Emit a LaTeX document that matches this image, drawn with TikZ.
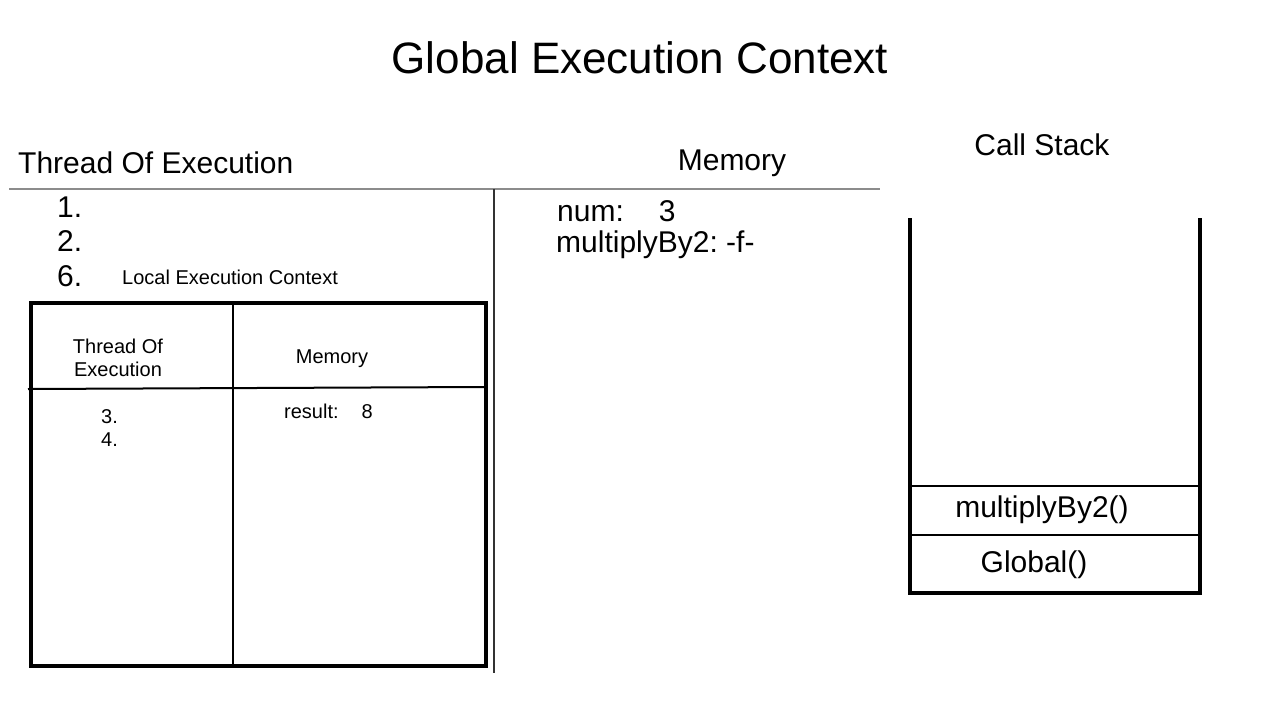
\documentclass[tikz,border=0pt]{standalone}
\usepackage{fontspec}
\setmainfont{Liberation Sans}
\usepackage{tikz}
\frenchspacing
\tikzset{
    every node/.style={inner sep=0pt, font=\fontsize{30}{34}\selectfont}
}
\tikzset{
    small/.style={font=\fontsize{20}{23}\selectfont},
    heavy/.style={line width=4pt},
    thin/.style={line width=1.5pt}
}

\begin{document}
\begin{tikzpicture}[x=1pt, y=-1pt]
  \useasboundingbox (0,0) rectangle (1280,720);

  \node (title) [font=\fontsize{44}{48}\selectfont] at (640, 58) {Global Execution Context};

  % global context
  \node (thread) [anchor=west] at (18, 163) {Thread Of Execution};
  \node (memory) at (732, 163) {Memory};
  \coordinate (hl) at (9, 189);  \coordinate (hr) at (880, 189);
  \coordinate (vt) at (494, 189); \coordinate (vb) at (494, 673);
  \draw [line width=2pt, gray!90] (hl) -- (hr);
  \draw [line width=2pt, black!80] (vt) -- (vb);

  \node (l1) [anchor=west] at (57, 207) {1.};
  \node (l2) [anchor=west] at (57, 241) {2.};
  \node (l6) [anchor=west] at (57, 276) {6.};
  \node (local) [small, anchor=west] at (122, 277) {Local Execution Context};

  \node (num) [anchor=west] at (557, 211) {num:\hspace{35pt}3};
  \node (fn) [anchor=west] at (556, 245) {multiplyBy2: -f-};

  % local context
  \node (box) [heavy, draw, minimum width=455pt, minimum height=363pt] at (258.5, 484.5) {};
  \coordinate (bt) at (233, 303); \coordinate (bb) at (233, 666);
  \coordinate (bl) at (28, 389);  \coordinate (br) at (484, 387);
  \draw [line width=2pt] (bt) -- (bb);
  \draw [line width=2pt] (bl) -- (br);
  \node (ithread) [small, align=center] at (118, 358) {Thread Of\\Execution};
  \node (imemory) [small] at (332, 359) {Memory};
  \node (l3) [small, anchor=west] at (101, 417) {3.};
  \node (l4) [small, anchor=west] at (101, 440) {4.};
  \node (result) [small, anchor=west] at (284, 411) {result:\hspace{23pt}8};

  % call stack
  \node (stack) at (1042, 145) {Call Stack};
  \coordinate (sa) at (910, 218); \coordinate (sb) at (910, 593);
  \coordinate (sc) at (1200, 593); \coordinate (sd) at (1200, 218);
  \draw [heavy] (sa) -- (sb) -- (sc) -- (sd);
  \coordinate (m1) at (910, 486); \coordinate (m2) at (1200, 486);
  \coordinate (g1) at (910, 535); \coordinate (g2) at (1200, 535);
  \draw [thin] (m1) -- (m2);
  \draw [thin] (g1) -- (g2);
  \node (mul) at (1042, 510) {multiplyBy2()};
  \node (glob) at (1034, 565) {Global()};
\end{tikzpicture}
\end{document}
